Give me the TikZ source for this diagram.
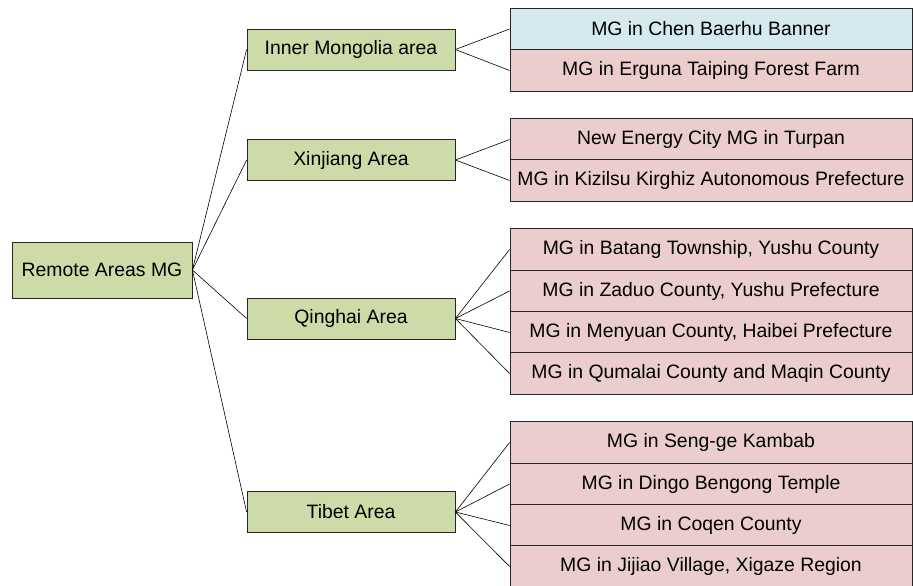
\documentclass[tikz,border=0pt]{standalone}
\usepackage{fontspec}
\setmainfont{Liberation Sans}
\definecolor{areagreen}{RGB}{205,219,169}
\definecolor{sitepink}{RGB}{235,205,205}
\definecolor{siteblue}{RGB}{212,234,238}
\tikzset{
  box/.style={draw=black!85, line width=0.8pt, inner sep=0pt,
    font=\fontsize{19.4}{23}\selectfont},
  root/.style={box, fill=areagreen, minimum width=180pt, minimum height=56pt},
  area/.style={box, fill=areagreen, minimum width=208pt, minimum height=41pt},
  site/.style={box, fill=sitepink, minimum width=402pt, minimum height=41.4pt},
  link/.style={line width=0.6pt}
}

\begin{document}
\begin{tikzpicture}[x=1pt, y=-1pt]
\useasboundingbox (0,0) rectangle (913,586);
\node[root] (r) at (102,270) {Remote Areas MG};
\node[area] (im) at (351,49.5) {Inner Mongolia area};
\node[area] (xj) at (351,160) {Xinjiang Area};
\node[area] (qh) at (351,318.5) {Qinghai Area};
\node[area] (tb) at (351,512) {Tibet Area};
\node[site, fill=siteblue] (im1) at (711,29) {MG in Chen Baerhu Banner};
\node[site] (im2) at (711,70.5) {MG in Erguna Taiping Forest Farm};
\node[site] (xj1) at (711,139.5) {New Energy City MG in Turpan};
\node[site] (xj2) at (711,180.5) {MG in Kizilsu Kirghiz Autonomous Prefecture};
\node[site] (qh1) at (711,249.5) {MG in Batang Township, Yushu County};
\node[site] (qh2) at (711,291) {MG in Zaduo County, Yushu Prefecture};
\node[site] (qh3) at (711,332.5) {MG in Menyuan County, Haibei Prefecture};
\node[site] (qh4) at (711,373.5) {MG in Qumalai County and Maqin County};
\node[site] (tb1) at (711,442.5) {MG in Seng-ge Kambab};
\node[site] (tb2) at (711,484) {MG in Dingo Bengong Temple};
\node[site] (tb3) at (711,525.5) {MG in Coqen County};
\node[site] (tb4) at (711,566.5) {MG in Jijiao Village, Xigaze Region};
\foreach \a in {im,xj,qh,tb}
  \draw[link] (r.east) -- (\a.west);
\foreach \a/\b in {im/im1,im/im2,xj/xj1,xj/xj2,qh/qh1,qh/qh2,qh/qh3,qh/qh4,tb/tb1,tb/tb2,tb/tb3,tb/tb4}
  \draw[link] (\a.east) -- (\b.west);
\end{tikzpicture}
\end{document}
